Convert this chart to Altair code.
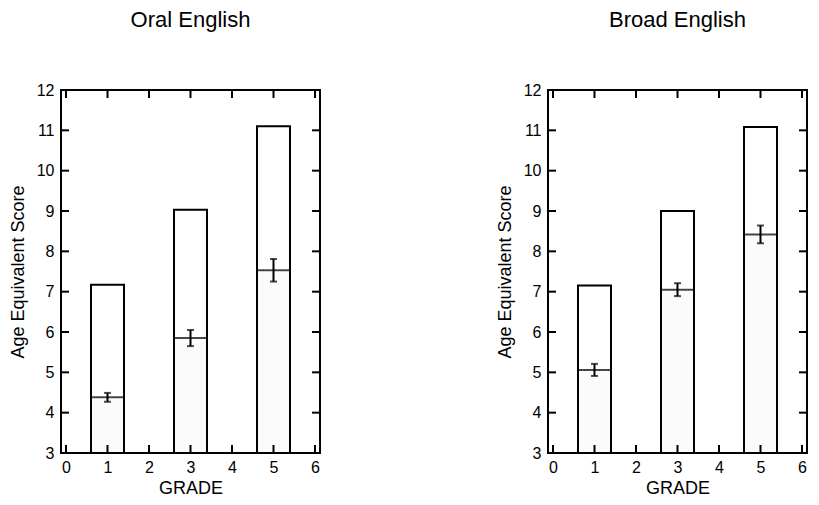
import altair as alt
import pandas as pd

grades = [1, 3, 5]
oral_total = [7.17, 9.03, 11.1]
oral_mean = [4.38, 5.85, 7.53]
oral_err = [0.11, 0.20, 0.28]
broad_total = [7.15, 9.0, 11.08]
broad_mean = [5.06, 7.05, 8.42]
broad_err = [0.15, 0.16, 0.22]

y_ticks = [3, 4, 5, 6, 7, 8, 9, 10, 11, 12]
x_ticks = [0, 1, 2, 3, 4, 5, 6]

W, H = 259, 363
BAR = 33
FONT = "Liberation Sans"


def panel(title, total, mean, err):
    df = pd.DataFrame({"grade": grades, "total": total, "mean": mean, "err": err})
    df["lo"] = df["mean"] - df["err"]
    df["hi"] = df["mean"] + df["err"]
    base = alt.Chart(df)
    xs = alt.Scale(domain=[0, 6], nice=False, zero=False)
    ys = alt.Scale(domain=[3, 12], nice=False, zero=False)
    x = alt.X("grade:Q", scale=xs, title="GRADE",
              axis=alt.Axis(values=x_ticks, ticks=False, domain=False, grid=False,
                            labelPadding=6, titlePadding=4, format="d"))
    y = alt.Y("total:Q", scale=ys, title="Age Equivalent Score",
              axis=alt.Axis(values=y_ticks, ticks=False, domain=False, grid=False,
                            labelPadding=7, titlePadding=9, format="d"))
    lower = base.mark_bar(size=BAR, fill="#fbfbfb", stroke="#999999",
                          strokeDash=[1, 2], strokeWidth=1).encode(
        x=x, y=alt.Y("mean:Q", scale=ys), y2=alt.datum(3))
    outline = base.mark_bar(size=BAR, fill="transparent", stroke="black",
                            strokeWidth=2).encode(x=x, y=y, y2=alt.datum(3))
    meanline = base.mark_tick(orient="horizontal", size=BAR, thickness=2,
                              color="black").encode(x=x, y=alt.Y("mean:Q", scale=ys))
    errv = base.mark_rule(color="black", strokeWidth=2).encode(
        x=x, y=alt.Y("lo:Q", scale=ys), y2="hi:Q")
    caps_lo = base.mark_tick(orient="horizontal", size=7, thickness=2,
                             color="black").encode(x=x, y=alt.Y("lo:Q", scale=ys))
    caps_hi = base.mark_tick(orient="horizontal", size=7, thickness=2,
                             color="black").encode(x=x, y=alt.Y("hi:Q", scale=ys))

    ydf = pd.DataFrame({"v": y_ticks})
    xdf = pd.DataFrame({"v": x_ticks})
    yl = alt.Chart(ydf).mark_rule(color="black", strokeWidth=2).encode(
        y=alt.Y("v:Q", scale=ys), x=alt.value(0), x2=alt.value(8))
    yr = alt.Chart(ydf).mark_rule(color="black", strokeWidth=2).encode(
        y=alt.Y("v:Q", scale=ys), x=alt.value(W - 8), x2=alt.value(W))
    xb = alt.Chart(xdf).mark_rule(color="black", strokeWidth=2).encode(
        x=alt.X("v:Q", scale=xs), y=alt.value(H - 8), y2=alt.value(H))
    xt = alt.Chart(xdf).mark_rule(color="black", strokeWidth=2).encode(
        x=alt.X("v:Q", scale=xs), y=alt.value(0), y2=alt.value(8))

    return alt.layer(lower, outline, meanline, errv, caps_lo, caps_hi,
                     yl, yr, xb, xt).properties(
        width=W, height=H,
        title=alt.TitleParams(title, fontSize=22, font=FONT, fontWeight="normal",
                              frame="group", offset=50, color="black"))


chart = alt.hconcat(
    panel("Oral English", oral_total, oral_mean, oral_err),
    panel("Broad English", broad_total, broad_mean, broad_err),
    spacing=173,
).configure_view(stroke="black", strokeWidth=2).configure_axis(
    labelFont=FONT, titleFont=FONT, labelFontSize=16, titleFontSize=18,
    titleFontWeight="normal", labelColor="black", titleColor="black"
).properties(padding={"left": 0, "top": 0, "right": 0, "bottom": 0})

chart.save("out.html", embed_options={"renderer": "svg", "actions": False})
